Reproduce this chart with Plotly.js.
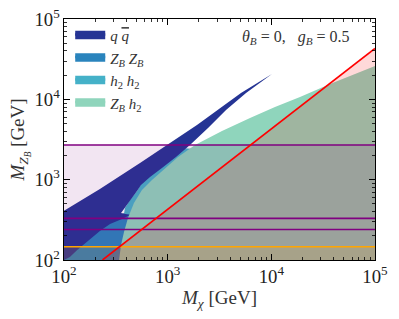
<!DOCTYPE html>
<html>
<head>
<meta charset="utf-8">
<script src="https://cdn.plot.ly/plotly-3.0.1.min.js"></script>
<style>html,body{margin:0;padding:0;background:#fff;}#chart{width:399px;height:319px;}</style>
</head>
<body>
<div id="chart"></div>
<script>
// ---- data (M_chi [GeV], M_ZB [GeV]) ----
const qqX = [100, 222, 541, 1178, 1918, 3125, 5096, 10140, 5700, 3655, 2450, 1641, 1203, 881, 676, 553, 506, 355, 433, 363, 278, 222, 174, 134, 114, 100];
const qqY = [410, 766, 1613, 3121, 4793, 7580, 11990, 20650, 11990, 7366, 4395, 2705, 1914, 1396, 1080, 859, 722, 385, 363, 324, 281, 230, 177, 133, 109, 100];

const zbzbX = [100, 100, 250, 400, 500, 604, 604];
const zbzbY = [100, 200, 320, 390, 410, 419, 100];

const h2h2X = [1300, 1000, 755, 600, 506, 433, 387, 379, 541, 844, 2051, 2290];
const h2h2Y = [2500, 1900, 1400, 1050, 722, 558, 444, 374, 374, 558, 1524, 2340];

const zbh2X = [340, 355, 379, 414, 473, 565, 706, 902, 1259, 1837, 3342, 6227, 10840, 18900, 36830, 100000, 100000];
const zbh2Y = [100, 154, 223, 334, 513, 744, 991, 1318, 1914, 2705, 4040, 5860, 8040, 10690, 15530, 26000, 100];

const relicX = [235, 100000];
const relicY = [100, 43000];

const purpleLevels = [2700, 330, 240];
const orangeLevel = 146;

const xLo = 100, xHi = 100000;
const names = ['<i>q</i> <span style="text-decoration:overline"><i>q</i></span>', '<i>Z</i><sub><i>B</i></sub> <i>Z</i><sub><i>B</i></sub>', '<i>h</i><sub>2</sub> <i>h</i><sub>2</sub>', '<i>Z</i><sub><i>B</i></sub> <i>h</i><sub>2</sub>'];
const colors = ['#253494', '#2a84bd', '#45b1c8', '#8fd5bc'];

function region(x, y, color) {
  return {x: x, y: y, type: 'scatter', mode: 'lines', fill: 'toself', fillcolor: color,
    line: {width: 0, color: color}, showlegend: false, hoverinfo: 'skip'};
}
function hline(v, color) {
  return {x: [xLo, xHi], y: [v, v], type: 'scatter', mode: 'lines', line: {color: color, width: 1.6}, showlegend: false, hoverinfo: 'skip'};
}

const traces = [];
// draw order: ZBZB, h2h2, navy, green
traces.push(region(zbzbX, zbzbY, colors[1]));
traces.push(region(h2h2X, h2h2Y, colors[2]));
traces.push(region(qqX, qqY, colors[0]));
traces.push(region(zbh2X, zbh2Y, colors[3]));

// translucent overlays
traces.push(region([relicX[0], relicX[1], relicX[1]], [relicY[0], relicY[1], relicY[0]], 'rgba(255,0,0,0.15)'));
traces.push(region([xLo, xHi, xHi, xLo], [100, 100, purpleLevels[0], purpleLevels[0]], 'rgba(128,0,128,0.1)'));
traces.push(region([xLo, xHi, xHi, xLo], [100, 100, orangeLevel, orangeLevel], 'rgba(255,165,0,0.12)'));

purpleLevels.forEach(v => traces.push(hline(v, '#800080')));
traces.push(hline(orangeLevel, '#ffa500'));
traces.push({x: relicX, y: relicY, type: 'scatter', mode: 'lines', line: {color: '#ff0000', width: 1.6}, showlegend: false, hoverinfo: 'skip'});

// legend entries (no data of their own)
names.forEach((n, i) => traces.push({x: [null], y: [null], type: 'scatter', mode: 'lines', fill: 'toself',
  fillcolor: colors[i], line: {width: 5, color: colors[i]}, name: n, showlegend: true, hoverinfo: 'skip'}));

const font = 'Liberation Serif, DejaVu Serif, serif';
const axisCommon = {
  type: 'log', range: [2, 5], dtick: 1, exponentformat: 'power',
  ticks: 'inside', ticklen: 6, tickwidth: 1, tickcolor: '#000',
  showline: true, linecolor: '#000', linewidth: 1.2, mirror: 'allticks',
  showgrid: false, zeroline: false,
  tickfont: {family: font, size: 15, color: '#222'},
  minor: {ticks: 'inside', ticklen: 3, tickwidth: 0.8, tickcolor: '#000', dtick: 'D1', showgrid: false}
};

const layout = {
  width: 399, height: 319,
  margin: {l: 64, r: 24, t: 19, b: 59},
  paper_bgcolor: '#fff', plot_bgcolor: '#fff',
  font: {family: font, color: '#222'},
  xaxis: Object.assign({}, axisCommon, {title: {text: '<i>M</i><sub><i>χ</i></sub> [GeV]', font: {family: font, size: 19, color: '#333'}, standoff: 4}}),
  yaxis: Object.assign({}, axisCommon, {title: {text: '<i>M</i><sub><i>Z</i><sub><i>B</i></sub></sub> [GeV]', font: {family: font, size: 19, color: '#333'}, standoff: 4}}),
  legend: {x: 0.02, y: 1.0, xanchor: 'left', yanchor: 'top', bgcolor: 'rgba(0,0,0,0)', borderwidth: 0,
    font: {family: font, size: 15, color: '#333'}, traceorder: 'normal', itemclick: false},
  annotations: [{xref: 'paper', yref: 'paper', x: 0.745, y: 0.925, xanchor: 'center', yanchor: 'middle', showarrow: false,
    text: '<i>θ</i><sub><i>B</i></sub> = 0,   <i>g</i><sub><i>B</i></sub> = 0.5', font: {family: font, size: 16, color: '#333'}}],
  showlegend: true
};

Plotly.newPlot('chart', traces, layout, {staticPlot: true, displayModeBar: false});
</script>
</body>
</html>
